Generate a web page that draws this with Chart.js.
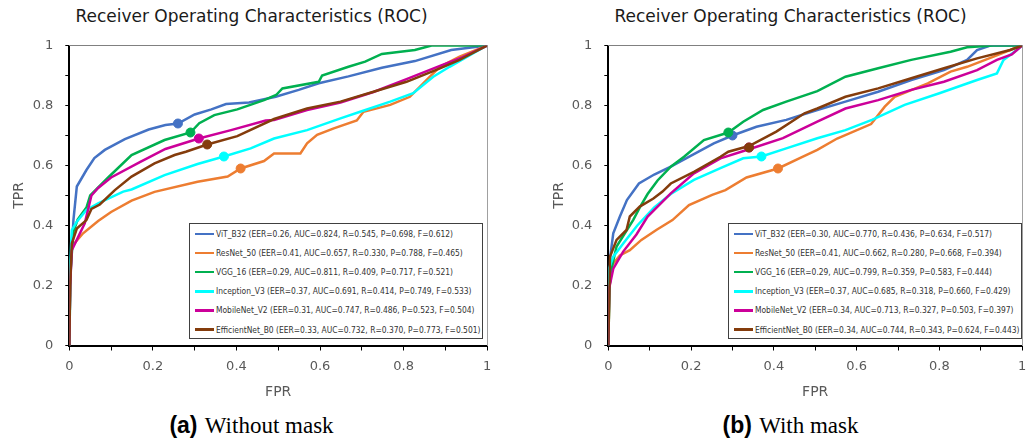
<!DOCTYPE html>
<html>
<head>
<meta charset="utf-8">
<script src="https://cdn.jsdelivr.net/npm/chart.js@4.4.0/dist/chart.umd.min.js"></script>
<style>
  body { margin: 0; background: #fff; width: 1035px; height: 441px; position: relative; overflow: hidden; font-family: "DejaVu Sans", sans-serif; }
  canvas { position: absolute; top: 0; }
  .title { position: absolute; top: 8px; width: 400px; text-align: center; font-size: 17px; line-height: 17px; color: #1a1a1a; white-space: nowrap; }
  .legend { position: absolute; top: 223px; width: 292px; height: 113px; border: 1px solid #404040; background: #fff; padding-top: 0.5px; }
  .row { height: 19.1px; display: flex; align-items: center; font-size: 8.4px; font-stretch: condensed; color: #333; white-space: nowrap; }
  .row i { display: inline-block; width: 19px; height: 2.5px; margin: 0 2px 0 5px; }
  .caption { position: absolute; top: 414px; width: 300px; text-align: center; font-size: 23px; line-height: 23px; white-space: nowrap; color: #000; }
  .caption b { font-family: "Liberation Sans", Arial, sans-serif; }
  .caption span { font-family: "Liberation Serif", "Times New Roman", serif; }
</style>
</head>
<body>
<div class="title" style="left:51.5px">Receiver Operating Characteristics (ROC)</div>
<div class="title" style="left:590.5px">Receiver Operating Characteristics (ROC)</div>
<canvas id="rocA" width="500" height="410" style="left:0;width:500px;height:410px"></canvas>
<canvas id="rocB" width="495" height="410" style="left:540px;width:495px;height:410px"></canvas>
<div class="legend" id="legA" style="left:189px"></div>
<div class="legend" id="legB" style="left:728px"></div>
<div class="caption" style="left:101.5px"><b>(a)</b> <span>Without mask</span></div>
<div class="caption" style="left:640.5px"><b>(b)</b> <span>With mask</span></div>

<script>
const models = ["ViT_B32", "ResNet_50", "VGG_16", "Inception_V3", "MobileNet_V2", "EfficientNet_B0"];
const colors = ["#4472C4", "#ED7D31", "#00B050", "#00FFFF", "#CC0099", "#843C0C"];

// (a) without mask - metrics
const eerA = [0.26, 0.41, 0.29, 0.37, 0.31, 0.33];
const aucA = [0.824, 0.657, 0.811, 0.691, 0.747, 0.732];
const recA = [0.545, 0.330, 0.409, 0.414, 0.486, 0.370];
const preA = [0.698, 0.788, 0.717, 0.749, 0.523, 0.773];
const f1A = [0.612, 0.465, 0.521, 0.533, 0.504, 0.501];

// (b) with mask - metrics
const eerB = [0.30, 0.41, 0.29, 0.37, 0.34, 0.34];
const aucB = [0.770, 0.662, 0.799, 0.685, 0.713, 0.744];
const recB = [0.436, 0.280, 0.359, 0.318, 0.327, 0.343];
const preB = [0.634, 0.668, 0.583, 0.660, 0.503, 0.624];
const f1B = [0.517, 0.394, 0.444, 0.429, 0.397, 0.443];

// ROC curves (FPR, TPR)
const rocA_vit = [[0,0],[0.002,0.2],[0.005,0.3],[0.01,0.42],[0.018,0.53],[0.041,0.585],[0.06,0.625],[0.085,0.652],[0.133,0.688],[0.19,0.72],[0.23,0.735],[0.26,0.74],[0.3,0.77],[0.34,0.787],[0.375,0.805],[0.43,0.81],[0.494,0.829],[0.549,0.852],[0.597,0.874],[0.668,0.897],[0.748,0.926],[0.827,0.948],[0.914,0.985],[0.962,0.993],[1,1]];
const rocA_res = [[0,0],[0.002,0.25],[0.006,0.33],[0.033,0.374],[0.069,0.415],[0.1,0.445],[0.149,0.483],[0.204,0.512],[0.307,0.546],[0.379,0.563],[0.41,0.59],[0.466,0.615],[0.49,0.64],[0.553,0.64],[0.569,0.674],[0.593,0.702],[0.633,0.724],[0.688,0.75],[0.704,0.779],[0.768,0.802],[0.815,0.829],[0.863,0.896],[0.887,0.929],[0.934,0.963],[1,1]];
const rocA_vgg = [[0,0],[0.003,0.25],[0.01,0.38],[0.02,0.42],[0.041,0.46],[0.05,0.5],[0.093,0.56],[0.149,0.635],[0.228,0.685],[0.29,0.71],[0.311,0.741],[0.347,0.768],[0.402,0.787],[0.466,0.818],[0.495,0.835],[0.51,0.857],[0.597,0.879],[0.605,0.9],[0.668,0.929],[0.708,0.946],[0.748,0.972],[0.827,0.985],[0.867,1],[1,1]];
const rocA_inc = [[0,0],[0,0.22],[0.006,0.385],[0.018,0.413],[0.041,0.452],[0.069,0.474],[0.129,0.513],[0.149,0.52],[0.228,0.568],[0.307,0.605],[0.37,0.63],[0.434,0.657],[0.49,0.69],[0.569,0.718],[0.649,0.757],[0.696,0.779],[0.768,0.813],[0.823,0.841],[0.871,0.896],[0.91,0.929],[0.966,0.974],[1,1]];
const rocA_mob = [[0,0],[0.002,0.2],[0.006,0.318],[0.037,0.407],[0.053,0.5],[0.069,0.525],[0.1,0.56],[0.17,0.612],[0.23,0.655],[0.31,0.69],[0.387,0.718],[0.47,0.75],[0.49,0.752],[0.569,0.785],[0.649,0.81],[0.728,0.845],[0.807,0.888],[0.887,0.932],[0.94,0.96],[1,1]];
const rocA_eff = [[0,0],[0.002,0.2],[0.006,0.34],[0.018,0.39],[0.041,0.418],[0.053,0.455],[0.073,0.47],[0.109,0.518],[0.149,0.563],[0.204,0.607],[0.252,0.635],[0.279,0.646],[0.33,0.67],[0.402,0.698],[0.49,0.755],[0.569,0.79],[0.649,0.813],[0.728,0.846],[0.807,0.879],[0.887,0.924],[0.934,0.952],[1,1]];

const rocB_vit = [[0,0],[0.002,0.2],[0.005,0.3],[0.012,0.374],[0.028,0.43],[0.045,0.485],[0.074,0.54],[0.111,0.57],[0.151,0.596],[0.199,0.632],[0.255,0.674],[0.3,0.7],[0.358,0.729],[0.43,0.752],[0.505,0.785],[0.573,0.813],[0.652,0.846],[0.732,0.885],[0.811,0.918],[0.867,0.952],[0.891,0.985],[0.923,1],[1,1]];
const rocB_res = [[0,0],[0.003,0.2],[0.01,0.27],[0.028,0.3],[0.052,0.318],[0.08,0.352],[0.116,0.385],[0.155,0.418],[0.195,0.468],[0.251,0.502],[0.283,0.518],[0.334,0.56],[0.41,0.59],[0.469,0.629],[0.505,0.652],[0.553,0.69],[0.635,0.738],[0.668,0.796],[0.692,0.829],[0.772,0.874],[0.827,0.913],[0.867,0.929],[0.931,0.963],[0.98,0.99],[1,1]];
const rocB_vgg = [[0,0],[0.003,0.2],[0.01,0.27],[0.02,0.33],[0.06,0.418],[0.08,0.47],[0.095,0.505],[0.119,0.55],[0.151,0.596],[0.183,0.629],[0.231,0.685],[0.29,0.71],[0.326,0.746],[0.374,0.785],[0.43,0.813],[0.505,0.848],[0.573,0.896],[0.652,0.924],[0.732,0.952],[0.827,0.979],[0.867,0.994],[0.93,1],[1,1]];
const rocB_inc = [[0,0],[0,0.25],[0.012,0.296],[0.036,0.34],[0.07,0.4],[0.111,0.46],[0.151,0.505],[0.207,0.552],[0.271,0.591],[0.326,0.624],[0.37,0.63],[0.43,0.657],[0.505,0.691],[0.573,0.718],[0.637,0.752],[0.716,0.802],[0.8,0.841],[0.891,0.885],[0.939,0.907],[0.955,0.952],[0.987,0.985],[1,1]];
const rocB_mob = [[0,0],[0.002,0.19],[0.012,0.256],[0.036,0.313],[0.068,0.37],[0.095,0.43],[0.151,0.507],[0.207,0.574],[0.271,0.624],[0.342,0.655],[0.422,0.691],[0.505,0.746],[0.573,0.79],[0.652,0.818],[0.732,0.852],[0.811,0.879],[0.891,0.918],[0.939,0.952],[0.975,0.97],[1,1]];
const rocB_eff = [[0,0],[0.004,0.296],[0.02,0.352],[0.044,0.385],[0.052,0.43],[0.076,0.463],[0.109,0.49],[0.131,0.513],[0.151,0.54],[0.207,0.579],[0.271,0.629],[0.29,0.646],[0.34,0.665],[0.406,0.713],[0.474,0.774],[0.505,0.79],[0.573,0.829],[0.652,0.857],[0.732,0.891],[0.811,0.924],[0.891,0.957],[0.971,0.985],[1,1]];

const curvesA = [rocA_vit, rocA_res, rocA_vgg, rocA_inc, rocA_mob, rocA_eff];
const curvesB = [rocB_vit, rocB_res, rocB_vgg, rocB_inc, rocB_mob, rocB_eff];

function tickLabel(v) {
  const k = Math.round(v * 10);
  return k % 2 ? "" : String(k / 10);
}

function buildChart(id, curves, eers, yWidth, padRight) {
  const datasets = [];
  curves.forEach((c, i) => {
    datasets.push({
      data: c.map((p) => ({ x: p[0], y: p[1] })),
      showLine: true,
      borderColor: colors[i],
      backgroundColor: colors[i],
      borderWidth: 2.5,
      pointRadius: 0,
      tension: 0,
      order: 20 - i,
    });
  });
  // EER operating point on each curve
  eers.forEach((e, i) => {
    datasets.push({
      data: [{ x: e, y: 1 - e }],
      backgroundColor: colors[i],
      borderColor: colors[i],
      pointRadius: 4.5,
      order: 10 - i,
    });
  });

  const tickFont = { family: "DejaVu Sans", size: 13 };
  const titleFont = { family: "DejaVu Sans", size: 14 };

  new Chart(document.getElementById(id), {
    type: "scatter",
    data: { datasets: datasets },
    options: {
      responsive: false,
      animation: false,
      devicePixelRatio: 1,
      layout: { padding: { left: 0, right: padRight, top: 45.5, bottom: 0 } },
      plugins: { legend: { display: false }, tooltip: { enabled: false } },
      scales: {
        x: {
          type: "linear", position: "bottom", min: 0, max: 1,
          ticks: { stepSize: 0.1, autoSkip: false, maxRotation: 0, padding: 8.7, color: "#595959", font: tickFont, callback: tickLabel },
          grid: { drawOnChartArea: false, drawTicks: true, tickLength: 5, color: "#000", lineWidth: 1 },
          border: { color: "#000", width: 2 },
          title: { display: true, text: "FPR", color: "#595959", font: titleFont, padding: { top: 0, bottom: 9.6 } },
          afterFit(s) { s.height = 64.5; },
        },
        y: {
          type: "linear", position: "left", min: 0, max: 1,
          ticks: { stepSize: 0.1, autoSkip: false, padding: 12, color: "#595959", font: tickFont, callback: tickLabel },
          grid: { drawOnChartArea: false, drawTicks: true, tickLength: 4, color: "#000", lineWidth: 1 },
          border: { color: "#000", width: 2 },
          title: { display: true, text: "TPR", color: "#595959", font: titleFont, padding: { top: 10.6, bottom: 0 } },
          afterFit(s) { s.width = yWidth; },
        },
        xt: {
          type: "linear", position: "top", min: 0, max: 1,
          ticks: { display: false }, grid: { display: false },
          border: { color: "#808080", width: 1 },
          afterFit(s) { s.height = 0; },
        },
        yr: {
          type: "linear", position: "right", min: 0, max: 1,
          ticks: { display: false }, grid: { display: false },
          border: { color: "#a0a0a0", width: 1 },
          afterFit(s) { s.width = 0; },
        },
      },
    },
  });
}

function buildLegend(id, eer, auc, rec, pre, f1) {
  const box = document.getElementById(id);
  models.forEach((m, i) => {
    const row = document.createElement("div");
    row.className = "row";
    row.innerHTML = `<i style="background:${colors[i]}"></i>${m} (EER=${eer[i].toFixed(2)}, AUC=${auc[i].toFixed(3)}, R=${rec[i].toFixed(3)}, P=${pre[i].toFixed(3)}, F=${f1[i].toFixed(3)})`;
    box.appendChild(row);
  });
}

buildChart("rocA", curvesA, eerA, 69.3, 10.7);
buildChart("rocB", curvesB, eerB, 68.3, 7.7);
buildLegend("legA", eerA, aucA, recA, preA, f1A);
buildLegend("legB", eerB, aucB, recB, preB, f1B);
</script>
</body>
</html>
